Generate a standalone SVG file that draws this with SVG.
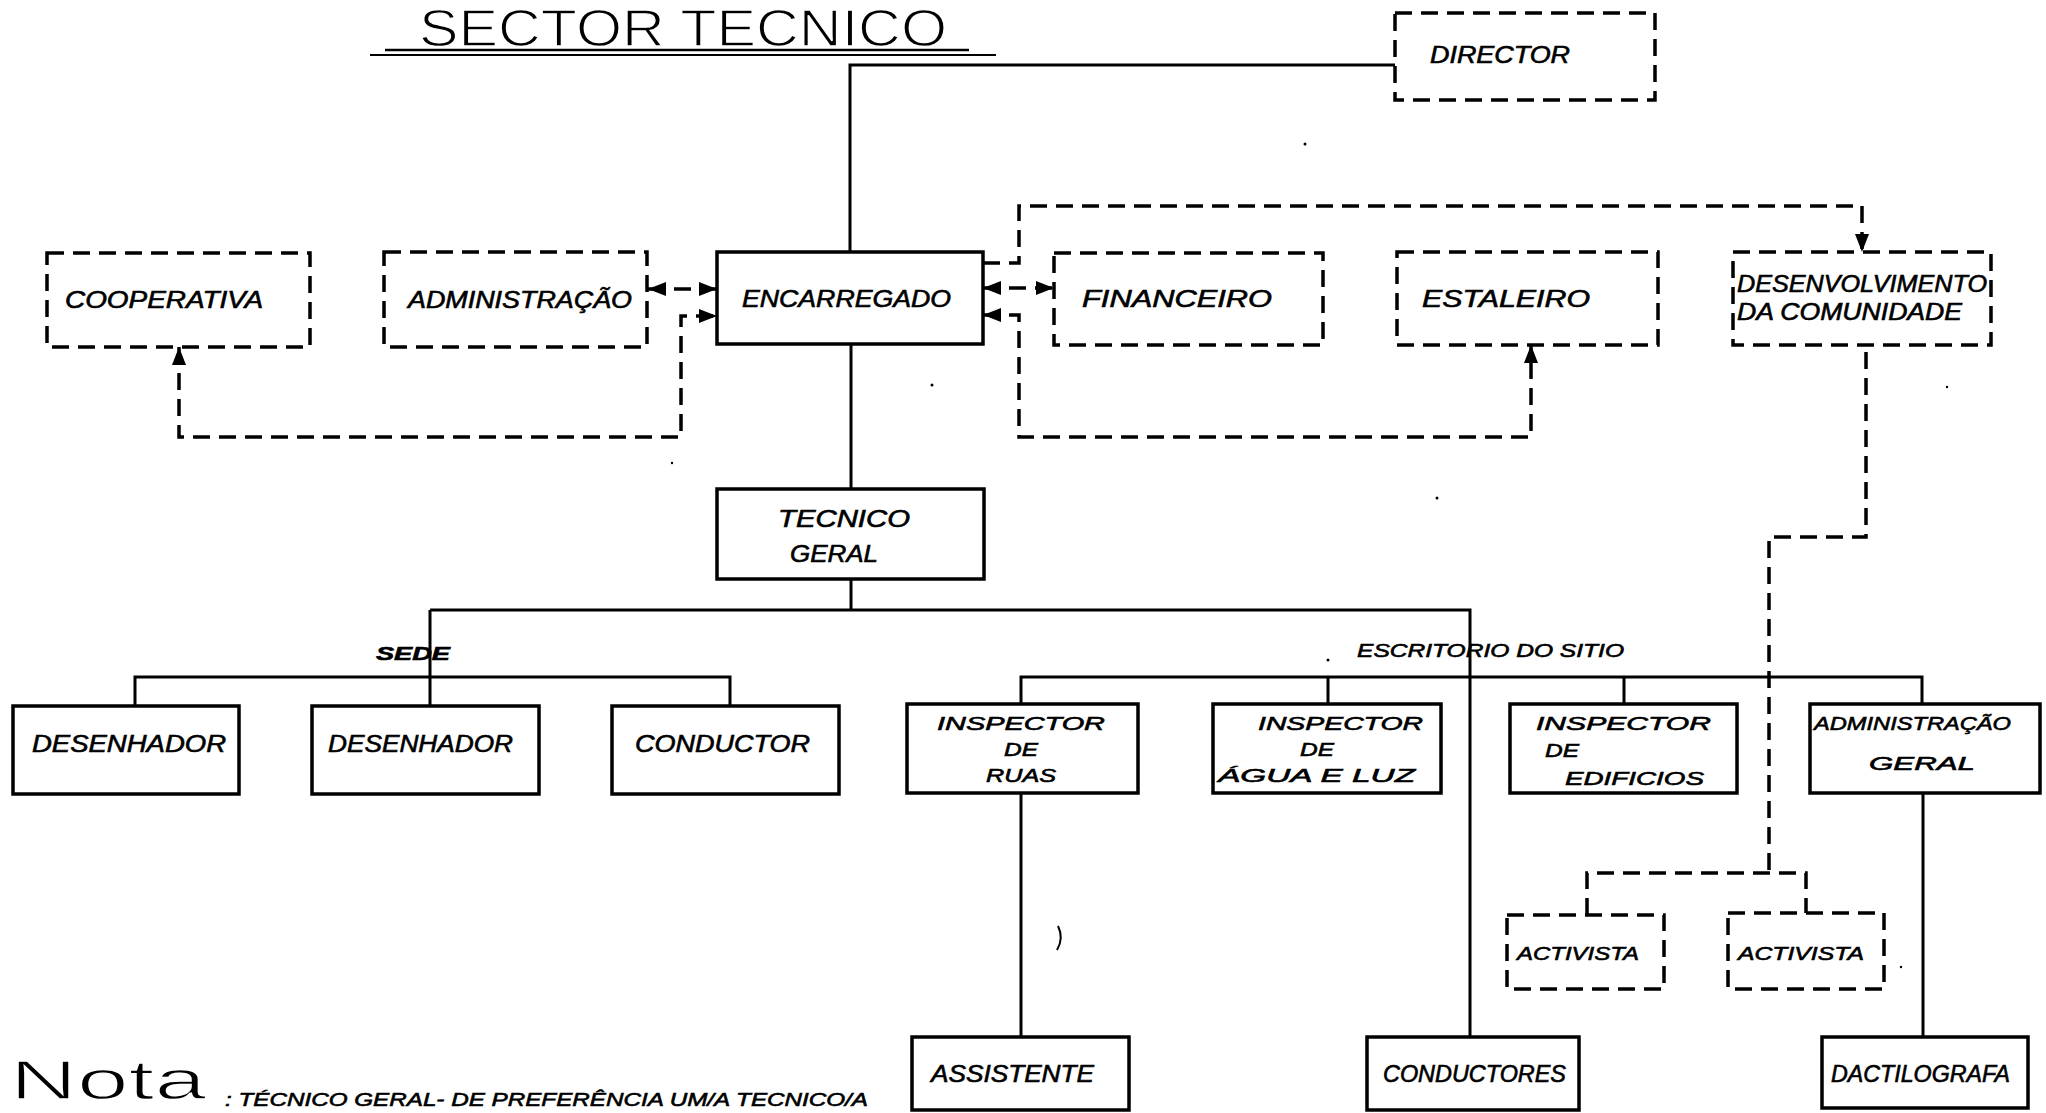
<svg xmlns="http://www.w3.org/2000/svg" width="2046" height="1113" viewBox="0 0 2046 1113">
<style>
.box{fill:#fff;stroke:#000;stroke-width:3.5}
.dbox{fill:#fff;stroke:#000;stroke-width:3.5;stroke-dasharray:17 9}
.ln{fill:none;stroke:#000;stroke-width:3}
.dln{fill:none;stroke:#000;stroke-width:3.5;stroke-dasharray:17 9}
.lbl{font-family:"Liberation Sans",Arial,sans-serif;font-style:italic;font-size:23px;fill:#000;stroke:#000;stroke-width:0.6}
.sm{font-size:19px}
.big{font-family:"Liberation Sans",Arial,sans-serif;fill:#000;stroke:#fff;stroke-width:1.4}
.dot{fill:#000}
</style>
<defs>
<marker id="ah" markerUnits="userSpaceOnUse" markerWidth="20" markerHeight="14" viewBox="0 0 20 14" refX="18" refY="7" orient="auto-start-reverse">
<path d="M0,0 L18,7 L0,14 z" fill="#000"/>
</marker>
</defs>
<rect width="2046" height="1113" fill="#fff"/>

<g id="title">
<text class="big" x="419" y="46" font-size="51" textLength="528" lengthAdjust="spacingAndGlyphs">SECTOR TECNICO</text>
<line x1="385" y1="50" x2="969" y2="50" stroke="#000" stroke-width="2.5"/>
<line x1="370" y1="55" x2="996" y2="55" stroke="#000" stroke-width="2"/>
</g>

<g id="connectors">
<path class="ln" d="M850,252 L850,65 L1395,65"/>
<path class="ln" d="M851,344 L851,489"/>
<path class="ln" d="M851,579 L851,610 M430,610 L1470,610 L1470,1037 M430,610 L430,706"/>
<path class="ln" d="M135,706 L135,677 L730,677 L730,706"/>
<path class="ln" d="M1021,704 L1021,677 L1922,677 L1922,704 M1328,677 L1328,704 M1624,677 L1624,704"/>
<path class="ln" d="M1021,793 L1021,1037 M1923,793 L1923,1037"/>
<path class="dln" d="M648,289 L717,289" marker-start="url(#ah)" marker-end="url(#ah)"/>
<path class="dln" d="M179,347 L179,437 L681,437 L681,316 L717,316" marker-start="url(#ah)" marker-end="url(#ah)"/>
<path class="dln" d="M983,263 L1019,263 L1019,206 L1862,206 L1862,252" marker-end="url(#ah)"/>
<path class="dln" d="M983,288 L1054,288" marker-start="url(#ah)" marker-end="url(#ah)"/>
<path class="dln" d="M983,315 L1019,315 L1019,437 L1531,437 L1531,345" marker-start="url(#ah)" marker-end="url(#ah)"/>
<path class="dln" d="M1866,352 L1866,537 L1769,537 L1769,873"/>
<path class="dln" d="M1587,915 L1587,873 L1806,873 L1806,913"/>
</g>

<g id="director"><rect class="dbox" x="1395" y="13" width="260" height="87"/>
<text class="lbl" x="1430" y="63" textLength="140" lengthAdjust="spacingAndGlyphs">DIRECTOR</text></g>

<g id="cooperativa"><rect class="dbox" x="47" y="253" width="263" height="94"/>
<text class="lbl" x="65" y="308" textLength="198" lengthAdjust="spacingAndGlyphs">COOPERATIVA</text></g>

<g id="administracao"><rect class="dbox" x="384" y="252" width="263" height="95"/>
<text class="lbl" x="408" y="308" textLength="224" lengthAdjust="spacingAndGlyphs">ADMINISTRAÇÃO</text></g>

<g id="encarregado"><rect class="box" x="717" y="252" width="266" height="92"/>
<text class="lbl" x="742" y="307" textLength="209" lengthAdjust="spacingAndGlyphs">ENCARREGADO</text></g>

<g id="financeiro"><rect class="dbox" x="1054" y="253" width="269" height="92"/>
<text class="lbl" x="1082" y="307" textLength="190" lengthAdjust="spacingAndGlyphs">FINANCEIRO</text></g>

<g id="estaleiro"><rect class="dbox" x="1397" y="252" width="261" height="93"/>
<text class="lbl" x="1422" y="307" textLength="168" lengthAdjust="spacingAndGlyphs">ESTALEIRO</text></g>

<g id="desenvolvimento"><rect class="dbox" x="1733" y="252" width="258" height="93"/>
<text class="lbl" x="1737" y="292" textLength="250" lengthAdjust="spacingAndGlyphs">DESENVOLVIMENTO</text>
<text class="lbl" x="1737" y="320" textLength="225" lengthAdjust="spacingAndGlyphs">DA COMUNIDADE</text></g>

<g id="tecnico-geral"><rect class="box" x="717" y="489" width="267" height="90"/>
<text class="lbl" x="778" y="527" textLength="132" lengthAdjust="spacingAndGlyphs">TECNICO</text>
<text class="lbl" x="790" y="562" textLength="88" lengthAdjust="spacingAndGlyphs">GERAL</text></g>

<text class="lbl sm" x="376" y="660" textLength="74" lengthAdjust="spacingAndGlyphs" font-style="normal" font-weight="bold">SEDE</text>
<text class="lbl sm" x="1357" y="657" textLength="267" lengthAdjust="spacingAndGlyphs">ESCRITORIO DO SITIO</text>

<g id="desenhador-1"><rect class="box" x="13" y="706" width="226" height="88"/>
<text class="lbl" x="32" y="752" textLength="194" lengthAdjust="spacingAndGlyphs">DESENHADOR</text></g>

<g id="desenhador-2"><rect class="box" x="312" y="706" width="227" height="88"/>
<text class="lbl" x="328" y="752" textLength="185" lengthAdjust="spacingAndGlyphs">DESENHADOR</text></g>

<g id="conductor"><rect class="box" x="612" y="706" width="227" height="88"/>
<text class="lbl" x="635" y="752" textLength="175" lengthAdjust="spacingAndGlyphs">CONDUCTOR</text></g>

<g id="inspector-ruas"><rect class="box" x="907" y="704" width="231" height="89"/>
<text class="lbl sm" x="937" y="730" textLength="168" lengthAdjust="spacingAndGlyphs">INSPECTOR</text>
<text class="lbl sm" x="1004" y="756" textLength="34" lengthAdjust="spacingAndGlyphs">DE</text>
<text class="lbl sm" x="986" y="782" textLength="70" lengthAdjust="spacingAndGlyphs">RUAS</text></g>

<g id="inspector-agua"><rect class="box" x="1213" y="704" width="228" height="89"/>
<text class="lbl sm" x="1258" y="730" textLength="165" lengthAdjust="spacingAndGlyphs">INSPECTOR</text>
<text class="lbl sm" x="1300" y="756" textLength="34" lengthAdjust="spacingAndGlyphs">DE</text>
<text class="lbl sm" x="1218" y="782" textLength="197" lengthAdjust="spacingAndGlyphs">ÁGUA E LUZ</text></g>

<g id="inspector-edificios"><rect class="box" x="1510" y="704" width="227" height="89"/>
<text class="lbl sm" x="1536" y="730" textLength="175" lengthAdjust="spacingAndGlyphs">INSPECTOR</text>
<text class="lbl sm" x="1545" y="757" textLength="34" lengthAdjust="spacingAndGlyphs">DE</text>
<text class="lbl sm" x="1565" y="785" textLength="139" lengthAdjust="spacingAndGlyphs">EDIFICIOS</text></g>

<g id="administracao-geral"><rect class="box" x="1810" y="704" width="230" height="89"/>
<text class="lbl sm" x="1814" y="730" textLength="197" lengthAdjust="spacingAndGlyphs">ADMINISTRAÇÃO</text>
<text class="lbl sm" x="1869" y="770" textLength="106" lengthAdjust="spacingAndGlyphs">GERAL</text></g>

<g id="activista-1"><rect class="dbox" x="1507" y="915" width="157" height="74"/>
<text class="lbl sm" x="1517" y="960" textLength="122" lengthAdjust="spacingAndGlyphs">ACTIVISTA</text></g>

<g id="activista-2"><rect class="dbox" x="1728" y="913" width="156" height="76"/>
<text class="lbl sm" x="1738" y="960" textLength="126" lengthAdjust="spacingAndGlyphs">ACTIVISTA</text></g>

<g id="assistente"><rect class="box" x="912" y="1037" width="217" height="73"/>
<text class="lbl" x="931" y="1082" textLength="163" lengthAdjust="spacingAndGlyphs">ASSISTENTE</text></g>

<g id="conductores"><rect class="box" x="1367" y="1037" width="212" height="73"/>
<text class="lbl" x="1383" y="1082" textLength="183" lengthAdjust="spacingAndGlyphs">CONDUCTORES</text></g>

<g id="dactilografa"><rect class="box" x="1822" y="1037" width="206" height="71"/>
<text class="lbl" x="1831" y="1082" textLength="179" lengthAdjust="spacingAndGlyphs">DACTILOGRAFA</text></g>

<g id="nota">
<text class="big" x="10" y="1099" font-size="56" textLength="196" lengthAdjust="spacingAndGlyphs">Nota</text>
<text class="lbl sm" x="225" y="1106" font-size="19" textLength="643" lengthAdjust="spacingAndGlyphs">: TÉCNICO GERAL- DE PREFERÊNCIA UM/A TECNICO/A</text>
</g>

<g id="marks">
<path d="M1058,926 Q1064,938 1057,950" fill="none" stroke="#000" stroke-width="2"/>
<circle class="dot" cx="932" cy="385" r="1.5"/>
<circle class="dot" cx="1437" cy="498" r="1.5"/>
<circle class="dot" cx="1947" cy="387" r="1.2"/>
<circle class="dot" cx="1328" cy="660" r="1.5"/>
<circle class="dot" cx="1901" cy="967" r="1.2"/>
<circle class="dot" cx="1305" cy="144" r="1.5"/>
<circle class="dot" cx="672" cy="463" r="1.2"/>
</g>
</svg>
